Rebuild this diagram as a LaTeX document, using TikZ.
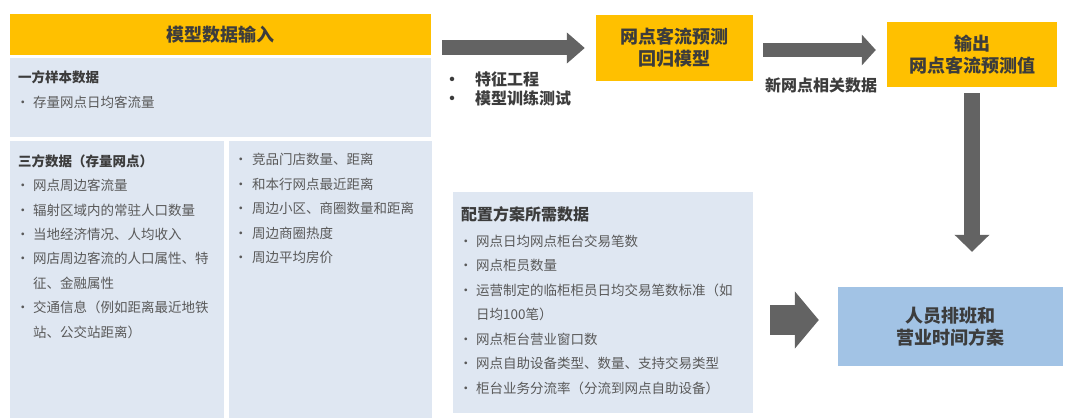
\documentclass[tikz,border=0pt]{standalone}
\usepackage{fontspec}
\setmainfont{Noto Sans CJK SC}
\usetikzlibrary{arrows.meta}

\definecolor{headyellow}{HTML}{FFC000}
\definecolor{headtext}{HTML}{3C3C3C}
\definecolor{listgray}{HTML}{595959}
\definecolor{arrowgray}{HTML}{636363}
\definecolor{paleblue}{HTML}{DFE7F2}
\definecolor{planblue}{HTML}{A2C3E5}

\newcommand{\dotitem}{\makebox[15pt][l]{\hspace{-2pt}•}}
\newcommand{\dotgap}{\hspace*{15pt}}

\begin{document}
\begin{tikzpicture}[x=1pt,y=-1pt,
    ybox/.style={fill=headyellow,text=headtext,inner sep=0,align=center,
        font=\bfseries\fontsize{18}{22}\selectfont},
    bbox/.style={fill=paleblue,inner sep=0},
    listtext/.style={anchor=north west,inner sep=0,align=left,text=listgray,
        font=\fontsize{13.5}{24.4}\selectfont},
    fatarrow/.style={draw=arrowgray,line width=15pt,-{Triangle[length=18pt,width=30pt]}}]
    \useasboundingbox (0,0) rectangle (1080,420);

    % Input part
    \node[ybox,minimum width=421pt,minimum height=41pt] (input) at (220.5,34.5) {模型数据输入};
    \node[bbox,minimum width=421pt,minimum height=79pt] (first) at (220.5,97.5) {};
    \node[bbox,minimum width=214pt,minimum height=277pt] (thirdL) at (117,279.5) {};
    \node[bbox,minimum width=203pt,minimum height=277pt] (thirdR) at (330.5,279.5) {};

    \node[listtext] (firsttext) at (18,71) {\textbf{\color{headtext}一方样本数据}\\
        \dotitem 存量网点日均客流量};
    \node[listtext] (thirdLtext) at (18,154.3) {\textbf{\color{headtext}三方数据（存量网点）}\\
        \dotitem 网点周边客流量\\
        \dotitem 辐射区域内的常驻人口数量\\
        \dotitem 当地经济情况、人均收入\\
        \dotitem 网店周边客流的人口属性、特\\
        \dotgap 征、金融属性\\
        \dotitem 交通信息（例如距离最近地铁\\
        \dotgap 站、公交站距离）};
    \node[listtext,font=\fontsize{13.5}{24.5}\selectfont] (thirdRtext) at (236,153.3) {\makebox[16pt][l]{\hspace{-2pt}•}竞品门店数量、距离\\
        \makebox[16pt][l]{\hspace{-2pt}•}和本行网点最近距离\\
        \makebox[16pt][l]{\hspace{-2pt}•}周边小区、商圈数量和距离\\
        \makebox[16pt][l]{\hspace{-2pt}•}周边商圈热度\\
        \makebox[16pt][l]{\hspace{-2pt}•}周边平均房价};

    % Model and output
    \node[ybox,minimum width=157pt,minimum height=66pt] (model) at (674.5,48) {网点客流预测\\回归模型};
    \node[ybox,minimum width=170pt,minimum height=65pt] (output) at (972,54.5) {输出\\网点客流预测值};
    \node[anchor=north west,inner sep=0,align=left,text=headtext,
        font=\bfseries\fontsize{16}{19}\selectfont] (steps) at (452,71.3)
        {\makebox[23pt][l]{\hspace{-8pt}•}特征工程\\\makebox[23pt][l]{\hspace{-8pt}•}模型训练测试};
    \node[inner sep=0,text=headtext,font=\bfseries\fontsize{16}{19}\selectfont] (newdata) at (821,85) {新网点相关数据};

    % Configuration data and plan
    \node[bbox,minimum width=300pt,minimum height=221pt] (config) at (603,302.5) {};
    \node[listtext,font=\fontsize{13.5}{24.5}\selectfont] (configtext) at (461,206.3)
        {{\bfseries\color{headtext}\fontsize{16}{24.5}\selectfont 配置方案所需数据}\\[1.5pt]
        \dotitem 网点日均网点柜台交易笔数\\
        \dotitem 网点柜员数量\\
        \dotitem 运营制定的临柜柜员日均交易笔数标准（如\\
        \dotgap 日均100笔）\\
        \dotitem 网点柜台营业窗口数\\
        \dotitem 网点自助设备类型、数量、支持交易类型\\
        \dotitem 柜台业务分流率（分流到网点自助设备）};
    \node[fill=planblue,text=headtext,inner sep=0,align=center,
        font=\bfseries\fontsize{18}{22}\selectfont,
        minimum width=225pt,minimum height=79pt] (plan) at (950.5,326.5) {人员排班和\\营业时间方案};

    % Arrows
    \draw[fatarrow,shorten <=11pt,shorten >=11pt] (model.west -| input.east) -- (model.west);
    \draw[fatarrow,line width=14pt,-{Triangle[length=14pt,width=30pt]},shorten <=10pt,shorten >=11pt]
        ([yshift=-2pt]model.east) -- ([yshift=-2pt]model.east -| output.west);
    \draw[fatarrow,line width=16pt,-{Triangle[length=17pt,width=34pt]},shorten <=6pt,shorten >=35pt]
        (output.south) -- (output.south |- plan.north);
    \coordinate (toplan) at ([yshift=6.5pt]plan.west);
    \draw[fatarrow,line width=30pt,-{Triangle[length=24pt,width=56pt]},shorten <=17pt,shorten >=19pt]
        (toplan -| config.east) -- (toplan);
\end{tikzpicture}
\end{document}
